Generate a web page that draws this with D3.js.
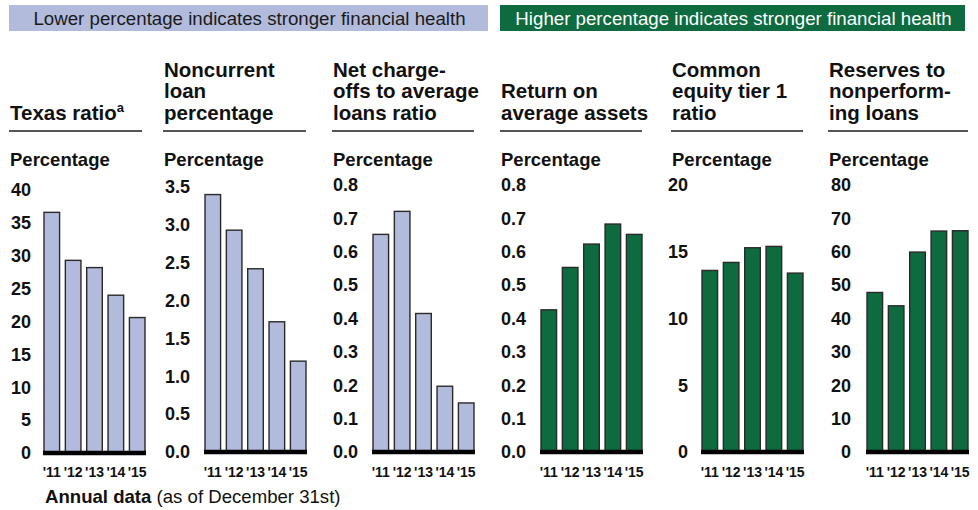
<!DOCTYPE html>
<html>
<head>
<meta charset="utf-8">
<script src="https://cdn.jsdelivr.net/npm/d3@7"></script>
<style>
    body { margin: 0; background: #fff; }
    svg { display: block; font-family: 'Liberation Sans', Arial, sans-serif; }
</style>
</head>
<body>
<div id="chart"></div>
<script>
(function () {
    'use strict';

    // data
    var years = ["'11", "'12", "'13", "'14", "'15"];

    var texasRatio = [36.6, 29.3, 28.2, 24.0, 20.6];
    var noncurrentLoan = [3.40, 2.93, 2.42, 1.72, 1.20];
    var netChargeOffs = [0.652, 0.721, 0.415, 0.197, 0.147];
    var returnOnAssets = [0.426, 0.553, 0.623, 0.683, 0.652];
    var cet1Ratio = [13.6, 14.2, 15.3, 15.4, 13.4];
    var reservesToNpl = [47.8, 43.8, 59.9, 66.2, 66.3];

    var texasTicks = [0, 5, 10, 15, 20, 25, 30, 35, 40];
    var noncurrentTicks = [0, 0.5, 1.0, 1.5, 2.0, 2.5, 3.0, 3.5];
    var ratioTicks = [0, 0.1, 0.2, 0.3, 0.4, 0.5, 0.6, 0.7, 0.8];
    var cet1Ticks = [0, 5, 10, 15, 20];
    var reservesTicks = [0, 10, 20, 30, 40, 50, 60, 70, 80];

    var titles = [
        ['Texas ratio'],
        ['Noncurrent', 'loan', 'percentage'],
        ['Net charge-', 'offs to average', 'loans ratio'],
        ['Return on', 'average assets'],
        ['Common', 'equity tier 1', 'ratio'],
        ['Reserves to', 'nonperform-', 'ing loans']
    ];

    var headerTexts = [
        'Lower percentage indicates stronger financial health',
        'Higher percentage indicates stronger financial health'
    ];

    var panels = [
        { title: titles[0], values: texasRatio, ticks: texasTicks, fmt: '.0f', group: 0 },
        { title: titles[1], values: noncurrentLoan, ticks: noncurrentTicks, fmt: '.1f', group: 0 },
        { title: titles[2], values: netChargeOffs, ticks: ratioTicks, fmt: '.1f', group: 0 },
        { title: titles[3], values: returnOnAssets, ticks: ratioTicks, fmt: '.1f', group: 1 },
        { title: titles[4], values: cet1Ratio, ticks: cet1Ticks, fmt: '.0f', group: 1 },
        { title: titles[5], values: reservesToNpl, ticks: reservesTicks, fmt: '.0f', group: 1 }
    ];

    // layout
    var svgWidth = 978;
    var svgHeight = 510;
    var fills = ['#b3bbdc', '#0e6b3f'];

    var panelLeft = [44, 205, 373, 541, 702, 867];
    var panelWidth = 101;
    var titleLeft = [10, 164, 333, 501, 672, 829];
    var labelRight = [31, 190, 358, 526, 688, 851];
    var plotTop = [190, 187, 185, 185, 185, 185];
    var plotBottom = [453, 452, 452, 452, 452, 452];

    var titleBaseline = 120;
    var titleLineHeight = 21.7;
    var ruleY = 131;

    var svg = createSvg('#chart');

    drawHeader(svg, 9, 488, headerTexts[0], fills[0], '#1a1a1a');
    drawHeader(svg, 500, 965, headerTexts[1], fills[1], '#fff');

    panels.forEach(function (p, i) {
        drawPanel(svg, p, i);
    });

    var footer = svg.append('text')
        .attr('x', 45)
        .attr('y', 503)
        .attr('font-size', 18.6)
        .attr('fill', '#111');
    footer.append('tspan').attr('font-weight', 'bold').text('Annual data');
    footer.append('tspan').text(' (as of December 31st)');

    function createSvg(element) {
        return d3.select(element)
            .append('svg')
            .attr('width', svgWidth)
            .attr('height', svgHeight);
    }

    function convertToTranslateString(x, y) {
        return 'translate(' + x + ',' + y + ')';
    }

    function drawHeader(svg, x0, x1, text, fill, color) {
        svg.append('rect')
            .attr('x', x0)
            .attr('y', 5)
            .attr('width', x1 - x0)
            .attr('height', 26)
            .attr('fill', fill);
        svg.append('text')
            .attr('x', (x0 + x1) / 2 + 1)
            .attr('y', 24.5)
            .attr('text-anchor', 'middle')
            .attr('font-size', 18.7)
            .attr('fill', color)
            .text(text);
    }

    function drawPanel(svg, p, i) {
        var left = panelLeft[i];
        var right = left + panelWidth;

        // title, bottom aligned
        var title = svg.append('text')
            .attr('font-size', 20.5)
            .attr('font-weight', 'bold')
            .attr('fill', '#111');
        p.title.forEach(function (line, k) {
            title.append('tspan')
                .attr('x', titleLeft[i])
                .attr('y', titleBaseline - (p.title.length - 1 - k) * titleLineHeight)
                .text(line);
        });
        if (i === 0) {
            title.append('tspan')
                .attr('font-size', 13)
                .attr('dy', -8)
                .text('a');
        }

        svg.append('line')
            .attr('x1', titleLeft[i] - 1)
            .attr('x2', i === 0 ? 142 : right)
            .attr('y1', ruleY)
            .attr('y2', ruleY)
            .attr('stroke', '#555')
            .attr('stroke-width', 2);

        svg.append('text')
            .attr('x', titleLeft[i])
            .attr('y', 166)
            .attr('font-size', 18.5)
            .attr('font-weight', 'bold')
            .attr('fill', '#111')
            .text('Percentage');

        var x = d3.scaleBand()
            .domain(years)
            .range([left, right])
            .paddingInner(0.27)
            .paddingOuter(0);

        var y = d3.scaleLinear()
            .domain([0, p.ticks[p.ticks.length - 1]])
            .range([plotBottom[i], plotTop[i]]);

        var yAxis = d3.axisLeft(y)
            .tickValues(p.ticks)
            .tickFormat(d3.format(p.fmt))
            .tickSize(0)
            .tickPadding(0);

        var yg = svg.append('g')
            .attr('transform', convertToTranslateString(labelRight[i], 0))
            .call(yAxis);
        yg.select('.domain').remove();
        yg.selectAll('text')
            .attr('font-family', null)
            .attr('font-size', 18)
            .attr('font-weight', 'bold')
            .attr('fill', '#111');

        svg.append('g')
            .selectAll('rect')
            .data(p.values)
            .join('rect')
            .attr('x', function (d, k) { return x(years[k]); })
            .attr('y', function (d) { return y(d); })
            .attr('width', x.bandwidth())
            .attr('height', function (d) { return y(0) - y(d); })
            .attr('fill', fills[p.group])
            .attr('stroke', '#2a2a2a')
            .attr('stroke-width', 1.4);

        svg.append('line')
            .attr('x1', left - 1)
            .attr('x2', right + 1)
            .attr('y1', y(0))
            .attr('y2', y(0))
            .attr('stroke', '#000')
            .attr('stroke-width', 4.5);

        var xAxis = d3.axisBottom(x)
            .tickSize(0)
            .tickPadding(0);

        var xg = svg.append('g')
            .attr('transform', convertToTranslateString(0, 467))
            .call(xAxis);
        xg.select('.domain').remove();
        xg.selectAll('text')
            .attr('font-family', null)
            .attr('font-size', 14)
            .attr('font-weight', 'bold')
            .attr('fill', '#111');
    }

}());
</script>
</body>
</html>
